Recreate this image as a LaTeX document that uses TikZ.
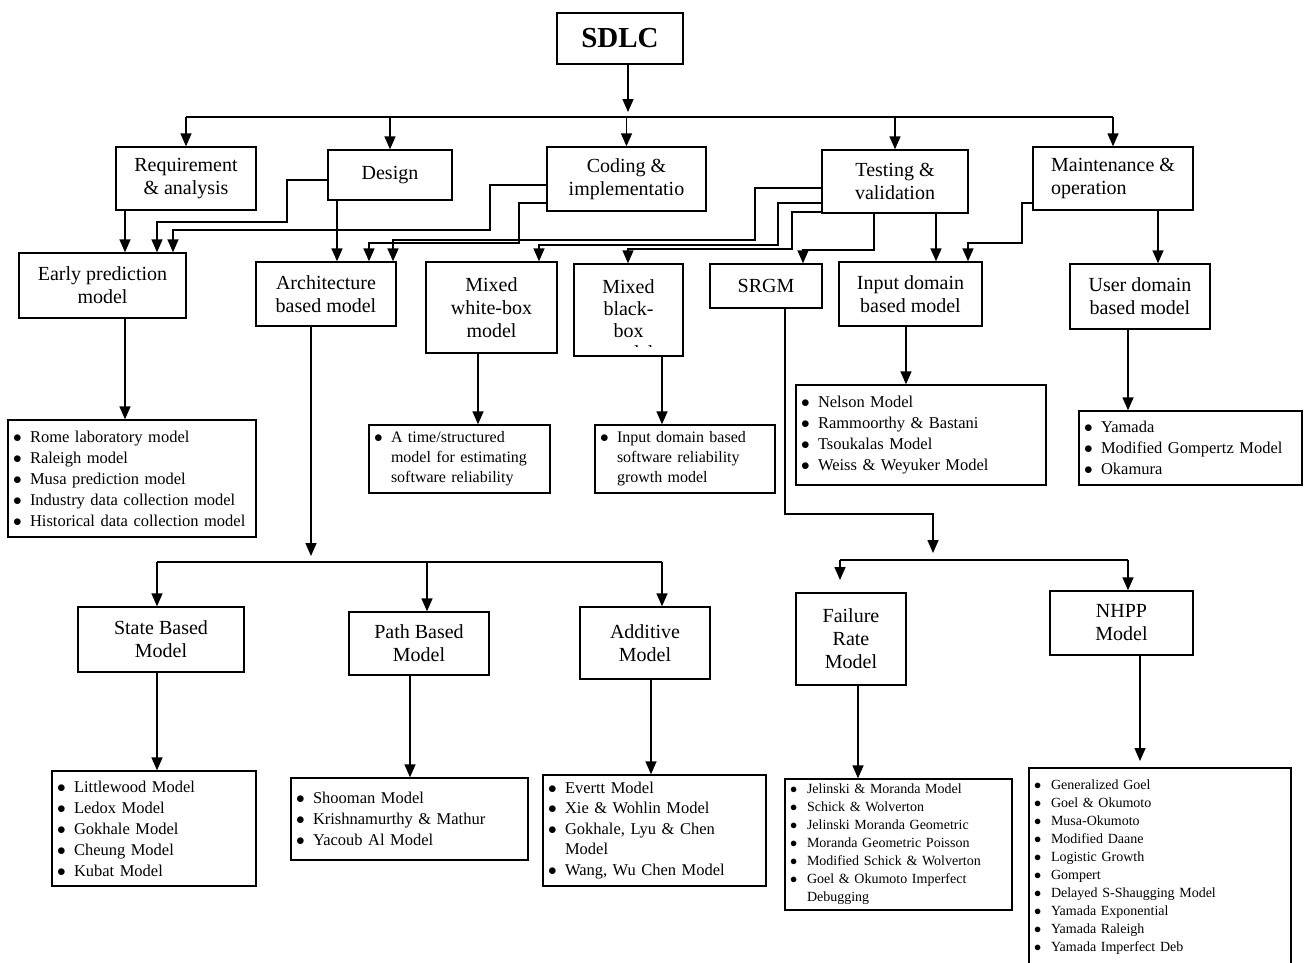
\documentclass[tikz,border=0pt]{standalone}
\usepackage{fontspec}
\setmainfont{Liberation Serif}
\usetikzlibrary{arrows.meta}

\newcommand{\itm}{\makebox[17pt][l]{$\bullet$}}
\newcommand{\itc}{\hspace*{17pt}}

\begin{document}
\begin{tikzpicture}[x=1pt, y=-1pt,
	box/.style={draw, line width=1.4pt, align=center, inner sep=2pt, font=\fontsize{20}{23}\selectfont},
	lst/.style={draw, line width=1.4pt, align=left, inner xsep=5pt, inner ysep=2pt, font=\fontsize{16.5}{21}\selectfont},
	lsts/.style={lst, font=\fontsize{14}{18}\selectfont},
	line/.style={line width=1.5pt},
	arr/.style={line, -{Triangle[length=13pt,width=11pt]}}]
	\clip (0,0) rectangle (1304,962);
	% wurzel
	\node[box, font=\fontsize{29}{32}\selectfont\bfseries, minimum width=126, minimum height=51] (sdlc) at (620,38.5) {SDLC};
	% phasen
	\node[box, minimum width=140, minimum height=63] (req) at (186,178.5) {Requirement\\\& analysis};
	\node[box, minimum width=124, minimum height=50] (design) at (390,175) {Design};
	\node[box, minimum width=159, minimum height=64] (coding) at (626.5,179) {Coding \&\\implementatio};
	\node[box, minimum width=146, minimum height=63] (testing) at (895,181.5) {Testing \&\\validation};
	\node[box, align=left, minimum width=160, minimum height=63] (maint) at (1113,178.5) {Maintenance \&\\operation};
	% verteiler unter sdlc
	\coordinate (bus) at (628,117);
	\draw[arr] (sdlc.south -| bus) -- ([yshift=5]bus);
	\draw[line] (req.north |- bus) -- (maint.north |- bus);
	\foreach \n in {req, design, coding, testing, maint}
		\draw[arr] (\n.north |- bus) -- (\n.north);
	% zweite reihe, modelle
	\node[box, minimum width=167, minimum height=65] (early) at (102.5,285.5) {Early prediction\\model};
	\node[box, minimum width=140, minimum height=64] (arch) at (326,294) {Architecture\\based model};
	\node[box, minimum width=131, minimum height=91] (mwhite) at (491.5,307.5) {Mixed\\white-box\\model};
	\node[box, minimum width=109, minimum height=92] (mblack) at (628.5,310) {};
	\begin{scope}
		\clip ([yshift=10]mblack.south west) rectangle (mblack.north east);
		\node[box, draw=none, font=\fontsize{20}{22}\selectfont] (mblacktxt) at (628.5,320) {Mixed\\black-\\box\\model};
	\end{scope}
	\node[box, minimum width=112, minimum height=44] (srgm) at (766,286) {SRGM};
	\node[box, minimum width=143, minimum height=64] (inputd) at (910.5,294) {Input domain\\based model};
	\node[box, minimum width=140, minimum height=65] (userd) at (1140,296.5) {User domain\\based model};
	% phasen zu modellen
	\draw[arr] (req.south -| 125,0) -- (early.north -| 125,0);
	\draw[arr] (design.west |- 0,180) -| (287,222) -| (early.north -| 157,0);
	\draw[arr] (coding.west |- 0,185) -| (490,230) -| (early.north -| 173,0);
	\draw[arr] (design.south -| 337,0) -- (arch.north -| 337,0);
	\draw[arr] (coding.west |- 0,203) -| (519,243) -| (arch.north -| 369,0);
	\draw[arr] (testing.west |- 0,188) -| (755,240) -| (arch.north -| 393,0);
	\draw[arr] (testing.west |- 0,203) -| (778,245) -| (mwhite.north -| 539,0);
	\draw[arr] (testing.west |- 0,212) -| (792,249) -| (mblack.north -| 628,0);
	\draw[arr] (testing.south -| 874,0) |- (803,250) -- (srgm.north -| 803,0);
	\draw[arr] (testing.south -| 936,0) -- (inputd.north -| 936,0);
	\draw[arr] (maint.west |- 0,203) -| (1022,243) -| (inputd.north -| 968,0);
	\draw[arr] (maint.south -| 1158,0) -- (userd.north -| 1158,0);
	% listen, dritte reihe
	\node[lst, text width=238, minimum height=117] (lstEarly) at (132,478.5) {\itm Rome laboratory model\\\itm Raleigh model\\\itm Musa prediction model\\\itm Industry data collection model\\\itm Historical data collection model};
	\node[lst, font=\fontsize{16}{20}\selectfont, text width=171, minimum height=68] (lstWhite) at (459.5,459) {\itm A time/structured\\\itc model for estimating\\\itc software reliability};
	\node[lst, font=\fontsize{16}{20}\selectfont, text width=170, minimum height=68] (lstBlack) at (685,459) {\itm Input domain based\\\itc software reliability\\\itc growth model};
	\node[lst, text width=240, minimum height=100] (lstInput) at (921,435) {\itm Nelson Model\\\itm Rammoorthy \& Bastani\\\itm Tsoukalas Model\\\itm Weiss \& Weyuker Model};
	\node[lst, text width=213, minimum height=74] (lstUser) at (1190.5,448) {\itm Yamada\\\itm Modified Gompertz Model\\\itm Okamura};
	\draw[arr] (early.south -| 125,0) -- (lstEarly.north -| 125,0);
	\draw[arr] (mwhite.south -| 478,0) -- (lstWhite.north -| 478,0);
	\draw[arr] (mblack.south -| 662,0) -- (lstBlack.north -| 662,0);
	\draw[arr] (inputd.south -| 906,0) -- (lstInput.north -| 906,0);
	\draw[arr] (userd.south -| 1128,0) -- (lstUser.north -| 1128,0);
	% architektur verteiler
	\coordinate (archbus) at (311,562);
	\node[box, minimum width=166, minimum height=65] (state) at (161,639.5) {State Based\\Model};
	\node[box, minimum width=140, minimum height=63] (pathm) at (419,643.5) {Path Based\\Model};
	\node[box, minimum width=130, minimum height=72] (additive) at (645,643) {Additive\\Model};
	\draw[arr] (arch.south -| archbus) -- ([yshift=6]archbus);
	\draw[line] (archbus -| 157,0) -- (archbus -| 662,0);
	\draw[arr] (archbus -| 157,0) -- (state.north -| 157,0);
	\draw[arr] (archbus -| 427,0) -- (pathm.north -| 427,0);
	\draw[arr] (archbus -| 662,0) -- (additive.north -| 662,0);
	% srgm verteiler
	\coordinate (srgmbus) at (933,560);
	\coordinate (failtip) at (840,580);
	\node[box, minimum width=110, minimum height=92] (failure) at (851,639) {Failure\\Rate\\Model};
	\node[box, minimum width=143, minimum height=64] (nhpp) at (1121.5,623) {NHPP\\Model};
	\draw[arr] (srgm.south -| 785,0) |- (933,514) -- ([yshift=7]srgmbus);
	\draw[line] (srgmbus -| 840,0) -- (srgmbus -| 1128,0);
	\draw[arr] (srgmbus -| 840,0) -- (failtip);
	\draw[arr] (srgmbus -| 1128,0) -- (nhpp.north -| 1128,0);
	% listen, unterste reihe
	\node[lst, text width=194, minimum height=115] (lstState) at (154,828.5) {\itm Littlewood Model\\\itm Ledox Model\\\itm Gokhale Model\\\itm Cheung Model\\\itm Kubat Model};
	\node[lst, text width=227, minimum height=82] (lstPath) at (409.5,819) {\itm Shooman Model\\\itm Krishnamurthy \& Mathur\\\itm Yacoub Al Model};
	\node[lst, font=\fontsize{16.5}{20.5}\selectfont, text width=213, minimum height=111] (lstAdd) at (654.5,830.5) {\itm Evertt Model\\\itm Xie \& Wohlin Model\\\itm Gokhale, Lyu \& Chen\\\itc Model\\\itm Wang, Wu Chen Model};
	\node[lsts, text width=217, minimum height=131] (lstFail) at (898.5,844.5) {\itm Jelinski \& Moranda Model\\\itm Schick \& Wolverton\\\itm Jelinski Moranda Geometric\\\itm Moranda Geometric Poisson\\\itm Modified Schick \& Wolverton\\\itm Goel \& Okumoto Imperfect\\\itc Debugging};
	\node[lsts, text width=252, minimum height=198] (lstNhpp) at (1160,867) {\itm Generalized Goel\\\itm Goel \& Okumoto\\\itm Musa-Okumoto\\\itm Modified Daane\\\itm Logistic Growth\\\itm Gompert\\\itm Delayed S-Shaugging Model\\\itm Yamada Exponential\\\itm Yamada Raleigh\\\itm Yamada Imperfect Deb};
	\coordinate (nhpptip) at (1140,761);
	\draw[arr] (state.south -| 157,0) -- (lstState.north -| 157,0);
	\draw[arr] (pathm.south -| 410,0) -- (lstPath.north -| 410,0);
	\draw[arr] (additive.south -| 651,0) -- (lstAdd.north -| 651,0);
	\draw[arr] (failure.south -| 858,0) -- (lstFail.north -| 858,0);
	\draw[arr] (nhpp.south -| 1140,0) -- (nhpptip);
\end{tikzpicture}
\end{document}
